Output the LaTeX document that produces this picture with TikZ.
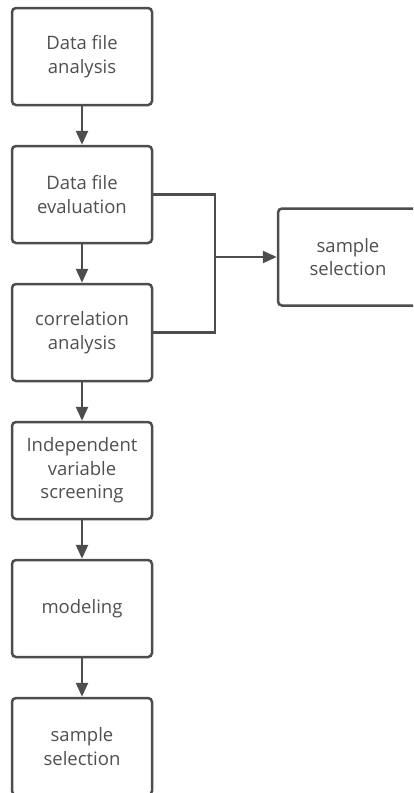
\documentclass[tikz,border=0pt]{standalone}
\usepackage{fontspec}
\setmainfont{Open Sans}
\usetikzlibrary{arrows.meta, positioning}

\definecolor{linegray}{HTML}{4D4D4D}
\definecolor{textgray}{HTML}{4F4F4F}

\tikzset{
  stepbox/.style={draw=linegray, line width=2.5pt, rounded corners=4pt,
    minimum width=140pt, minimum height=97pt, inner sep=0pt,
    align=center, text=textgray, font=\fontsize{18.5}{23.5}\selectfont},
  flow/.style={draw=linegray, line width=2.5pt,
    -{Triangle[length=14pt, width=12pt]}},
}

\begin{document}
\begin{tikzpicture}[node distance=138pt]
  % frame
  \clip (0pt,0pt) rectangle (413pt,-793pt);

  % main column
  \node (analysis) [stepbox] at (82pt,-56.5pt) {Data file\\analysis};

  \node (evaluation) [stepbox, below of=analysis] {Data file\\evaluation};

  \node (correlation) [stepbox, below of=evaluation] {correlation\\analysis};

  \node (screening) [stepbox, below of=correlation] {Independent\\variable\\screening};

  \node (modeling) [stepbox, below of=screening] {modeling};

  \node (selection) [stepbox, below of=modeling] {sample\\selection};

  %%%%%%%%%%%%%%%%%
  \node (sideselect) [stepbox] at (348pt,-257pt) {sample\\selection};

  \coordinate (junc) at (215pt,-257pt);

  %%%%%%%%%%%%%%%%%
  \draw [flow] (analysis) to (evaluation);
  \draw [flow] (evaluation) to (correlation);
  \draw [flow] (correlation) to (screening);
  \draw [flow] (screening) to (modeling);
  \draw [flow] (modeling) to (selection);

  \draw [draw=linegray, line width=2.5pt] (evaluation.east) -| (junc) |- (correlation.east);
  \draw [flow] (junc) to (sideselect);

\end{tikzpicture}
\end{document}
